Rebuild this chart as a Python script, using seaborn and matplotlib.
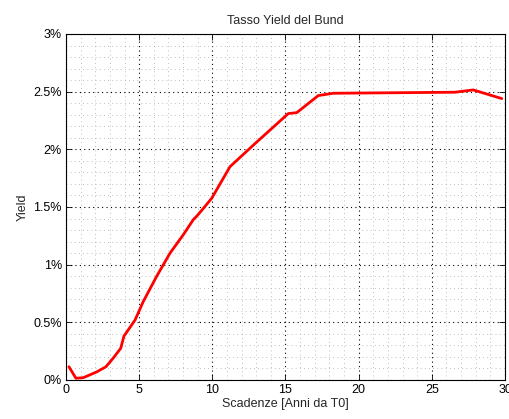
import matplotlib
matplotlib.use("Agg")
import matplotlib.pyplot as plt
import seaborn as sns
import pandas as pd
from matplotlib.ticker import MultipleLocator, FuncFormatter

# Bund yield curve: maturity (years from T0) and yield (%)
maturities = [0.2, 0.68, 1.18, 2.1, 2.73, 3.23, 3.74, 3.96, 4.72, 5.28, 6.2, 7.11,
              8.02, 8.7, 8.93, 9.27, 9.96, 11.21, 12.92, 15.19, 15.77, 17.24,
              18.27, 26.58, 27.83, 29.78]
yields = [0.115, 0.015, 0.02, 0.07, 0.115, 0.19, 0.275, 0.38, 0.52, 0.68, 0.9, 1.1,
          1.26, 1.39, 1.42, 1.47, 1.576, 1.85, 2.05, 2.31, 2.318, 2.466,
          2.486, 2.495, 2.515, 2.44]

df = pd.DataFrame({"Scadenza": maturities, "Yield": yields})

sns.set_theme(style="white")
plt.rcParams["font.family"] = ["Liberation Sans", "DejaVu Sans"]

fig = plt.figure(figsize=(5.10, 4.19), dpi=100)
ax = fig.add_axes([0.1294, 0.0931, 0.8608, 0.8258])

sns.lineplot(data=df, x="Scadenza", y="Yield", ax=ax, color="#ff0000",
             linewidth=2.0, sort=False)

ax.set_xlim(0, 30)
ax.set_ylim(0, 3)
ax.xaxis.set_major_locator(MultipleLocator(5))
ax.xaxis.set_minor_locator(MultipleLocator(1))
ax.yaxis.set_major_locator(MultipleLocator(0.5))
ax.yaxis.set_minor_locator(MultipleLocator(0.1))
ax.yaxis.set_major_formatter(FuncFormatter(lambda v, p: f"{v:g}%"))

ax.grid(which="major", color="black", linestyle=(0, (1, 3)), linewidth=0.8)
ax.grid(which="minor", color="#a8a8a8", linestyle=(0, (1, 4)), linewidth=0.6)
ax.set_axisbelow(True)

for s in ax.spines.values():
    s.set_color("black")
    s.set_linewidth(0.8)

ax.tick_params(which="major", direction="in", length=4, width=0.6,
               top=True, right=True, bottom=True, left=True,
               labelsize=9, colors="black", pad=3)
ax.tick_params(which="minor", length=0, top=True, right=True)

ax.set_title("Tasso Yield del Bund", fontsize=9, pad=7)
ax.set_xlabel("Scadenze [Anni da T0]", fontsize=9, labelpad=1)
ax.set_ylabel("Yield", fontsize=9, labelpad=3)

fig.savefig("out.png", dpi=100)
